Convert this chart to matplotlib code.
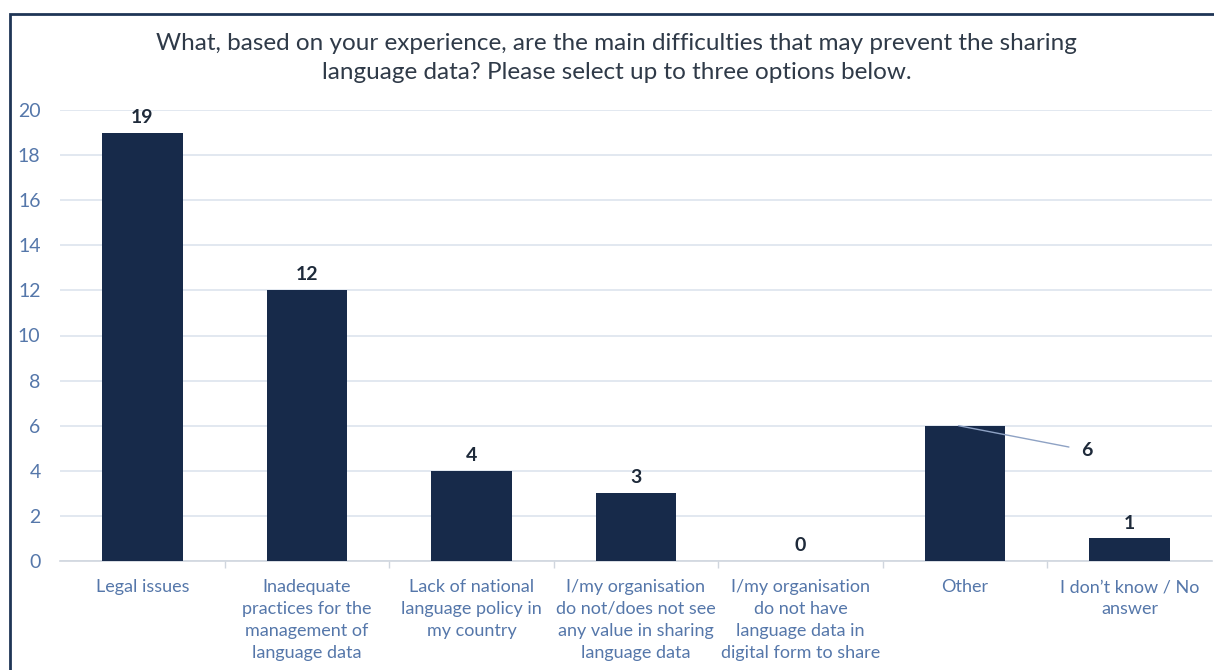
import matplotlib
matplotlib.use("Agg")
import matplotlib.pyplot as plt
from matplotlib.patches import Rectangle

plt.rcParams['font.family'] = ['Lato', 'DejaVu Sans']

categories = [
    "Legal issues",
    "Inadequate\npractices for the\nmanagement of\nlanguage data",
    "Lack of national\nlanguage policy in\nmy country",
    "I/my organisation\ndo not/does not see\nany value in sharing\nlanguage data",
    "I/my organisation\ndo not have\nlanguage data in\ndigital form to share",
    "Other",
    "I don\u2019t know / No\nanswer",
]
counts = [19, 12, 4, 3, 0, 6, 1]
yticks = [0, 2, 4, 6, 8, 10, 12, 14, 16, 18, 20]
title = ("What, based on your experience, are the main difficulties that may prevent the sharing\n"
         "language data? Please select up to three options below.")

bar_color = "#172a4a"
tick_color = "#5577aa"
grid_color = "#dde4ee"
label_color = "#1e2a3a"

fig = plt.figure(figsize=(12.14, 6.70), dpi=100)
ax = fig.add_axes([60 / 1214, 109 / 670, 1152 / 1214, 451 / 670])

x = list(range(len(categories)))
ax.bar(x, counts, width=0.49, color=bar_color, zorder=3)

ax.set_xlim(-0.5, len(categories) - 0.5)
ax.set_ylim(0, 20)
ax.set_yticks(yticks)
ax.set_yticklabels([str(v) for v in yticks], fontsize=14, color=tick_color)
ax.set_xticks(x)
ax.set_xticklabels(categories, fontsize=13, color=tick_color, linespacing=1.45, va="top")
ax.tick_params(axis="x", length=0, pad=13)
ax.tick_params(axis="y", length=0, pad=14)

# category separator ticks below the baseline
ax.set_xticks([i + 0.5 for i in range(len(categories) - 1)], minor=True)
ax.tick_params(axis="x", which="minor", length=5, color="#d0d6de", width=1)

ax.grid(axis="y", color=grid_color, linewidth=1.2, zorder=0)
for side in ["top", "right", "left"]:
    ax.spines[side].set_visible(False)
ax.spines["bottom"].set_color("#d0d6de")
ax.spines["bottom"].set_linewidth(1.2)

# value labels
for i, v in enumerate(counts):
    if categories[i] == "Other":
        ax.annotate(str(v), xy=(i - 0.04, v), xytext=(i + 0.74, v - 1.1),
                    ha="center", va="center", fontsize=14, fontweight="bold",
                    color=label_color,
                    arrowprops=dict(arrowstyle="-", color="#8ea2c4", lw=1.0,
                                    shrinkA=7, shrinkB=0))
    else:
        ax.annotate(str(v), xy=(i, v), xytext=(0, 5), textcoords="offset points",
                    ha="center", va="bottom", fontsize=14, fontweight="bold",
                    color=label_color)

fig.text(0.508, 0.95, title, ha="center", va="top", fontsize=17.5,
         color="#2f3a48", linespacing=1.45)

# outer frame of the chart area
fig.patches.append(Rectangle((10 / 1214, -0.1), 1.2, (670 - 14) / 670 + 0.1,
                             transform=fig.transFigure, fill=False,
                             edgecolor="#1f3556", linewidth=2.0))

fig.savefig("out.png", dpi=100)
